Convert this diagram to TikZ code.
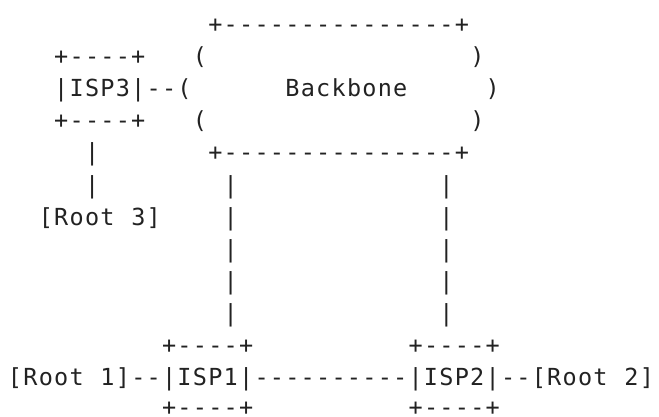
\documentclass[tikz,border=0pt]{standalone}
\usepackage{fontspec}
\newfontfamily\asciifont[LetterSpace=5.36]{DejaVu Sans Mono}
\definecolor{ink}{HTML}{222222}
\newcommand\cw{15.41}
\newcommand\rh{32.1}
\newcommand\txtat[4]{\node[ascii] (#1) at ({8+#2*\cw},{32.5+#3*\rh}) {#4};}
\begin{document}
\begin{tikzpicture}[x=1pt,y=-1pt,
  ascii/.style={anchor=base west, inner sep=0pt, outer sep=0pt, text=ink,
    font=\asciifont\fontsize{23.5}{28}\selectfont}]
\useasboundingbox (0,0) rectangle (659,416);
% row 0
\txtat{bbtop}{13}{0}{+---------------+}
% row 1
\txtat{isptop}{3}{1}{+----+}
\txtat{bbl1}{12}{1}{(}
\txtat{bbr1}{30}{1}{)}
% row 2
\txtat{isp3}{3}{2}{|ISP3|--(}
\txtat{bb}{18}{2}{Backbone}
\txtat{bbr2}{31}{2}{)}
% row 3
\txtat{ispbot}{3}{3}{+----+}
\txtat{bbl3}{12}{3}{(}
\txtat{bbr3}{30}{3}{)}
% row 4
\txtat{va4}{5}{4}{|}
\txtat{bbbot}{13}{4}{+---------------+}
% row 5
\txtat{va5}{5}{5}{|}
\txtat{vb5}{14}{5}{|}
\txtat{vc5}{28}{5}{|}
% row 6
\txtat{root3a}{2}{6}{[Root}
\txtat{root3b}{8}{6}{3]}
\txtat{vb6}{14}{6}{|}
\txtat{vc6}{28}{6}{|}
% rows 7-9
\txtat{vb7}{14}{7}{|}
\txtat{vc7}{28}{7}{|}
\txtat{vb8}{14}{8}{|}
\txtat{vc8}{28}{8}{|}
\txtat{vb9}{14}{9}{|}
\txtat{vc9}{28}{9}{|}
% row 10
\txtat{isp1top}{10}{10}{+----+}
\txtat{isp2top}{26}{10}{+----+}
% row 11
\txtat{root1a}{0}{11}{[Root}
\txtat{root1b}{6}{11}{1]--|ISP1|----------|ISP2|--[Root}
\txtat{root2b}{40}{11}{2]}
% row 12 (kept just inside the bottom edge)
\node[ascii] (isp1bot) at ({8+10*\cw},415) {+----+};
\node[ascii] (isp2bot) at ({8+26*\cw},415) {+----+};
\end{tikzpicture}
\end{document}
